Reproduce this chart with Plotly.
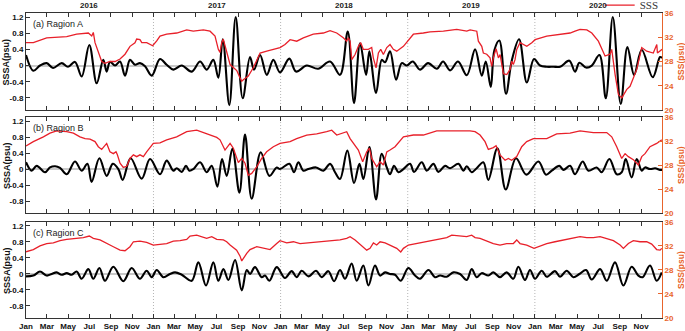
import pandas as pd
import plotly.graph_objects as go
from plotly.subplots import make_subplots

# x values are months elapsed since 2016-01-01
# ---------------- Region A ----------------
a_sssa_m = [0.0, 0.69, 1.32, 1.95, 2.55, 3.37, 3.96, 4.62, 5.25, 5.97, 6.67, 7.29, 7.61, 7.92, 8.4, 8.87, 9.34, 9.81,
            10.28, 10.75, 11.23, 11.86, 12.64, 13.27, 13.9, 14.69, 15.63, 16.42, 17.05, 17.67, 18.14, 18.56, 19.18,
            19.78, 20.44, 21.13, 21.51, 22.08, 22.71, 23.33, 23.96, 24.84, 25.47, 26.48, 27.55, 28.68, 29.62, 30.35,
            30.94, 31.51, 32.08, 32.39, 33.02, 33.56, 33.87, 34.34, 34.91, 35.44, 35.92, 36.48, 37.17, 37.92, 38.75,
            39.34, 40.0, 40.75, 41.58, 42.36, 42.99, 43.37, 43.84, 44.18, 44.65, 45.28, 45.82, 46.51, 47.24, 47.92,
            48.49, 49.12, 49.75, 50.38, 51.25, 51.79, 52.2, 52.83, 53.37, 54.09, 54.69, 55.35, 56.1, 56.73, 57.36,
            58.08, 59.12, 59.81, 60.0]
a_sssa_v = [0.26, -0.13, 0.0, 0.06, -0.06, 0.06, -0.03, 0.09, -0.27, 0.51, -0.44, 0.14, -0.15, 0.09, 0.0, 0.10, -0.25,
            0.14, 0.02, 0.06, -0.02, -0.25, 0.16, 0.02, -0.10, 0.0, -0.15, 0.10, -0.10, 0.14, -0.30, 0.65, -0.98,
            1.20, -0.81, 0.21, -0.10, 0.26, -0.23, 0.14, -0.17, 0.17, -0.15, 0.0, -0.08, 0.10, -0.23, 0.84,
            -0.93, 0.55, -0.23, 0.35, -0.68, 0.14, 0.08, 0.35, -0.35, 0.06, 0.0, 0.10, -0.10, 0.06, -0.08,
            0.10, -0.12, 0.10, -0.24, 0.40, -0.25, 0.10, -0.53, 0.38, 0.62, -0.70, 0.12, 0.65, -0.42, 0.16,
            0.0, -0.03, -0.03, -0.03, 0.12, -0.15, 0.07, -0.05, 0.0, 0.26, -0.81, 1.20, -0.95, 0.46, -0.23,
            0.39, -0.29, 0.21, 0.19]
a_sss_m = [0.0, 0.69, 1.95, 3.84, 4.78, 5.88, 6.2, 6.35, 6.51, 6.82, 7.14, 7.45, 7.92, 8.4, 8.87, 9.34, 9.81, 10.28,
           10.44, 10.75, 10.92, 11.39, 11.95, 12.33, 12.64, 13.27, 14.22, 15.16, 15.78, 16.73, 17.36, 17.83, 18.14,
           18.3, 18.46, 18.61, 18.93, 19.25, 19.56, 19.88, 20.19, 20.35, 20.5, 20.97, 21.45, 21.92, 22.08, 22.71,
           23.33, 23.96, 24.43, 24.91, 25.54, 26.16, 27.1, 28.05, 28.68, 29.31, 29.93, 30.25, 30.4, 30.57, 30.73,
           31.04, 31.35, 31.58, 31.82, 32.29, 32.61, 32.76, 33.02, 33.24, 33.46, 33.71, 34.03, 34.34, 34.65, 34.97,
           35.6, 36.07, 36.54, 37.48, 38.11, 39.37, 40.63, 41.58, 41.89, 42.52, 42.67, 42.99, 43.14, 43.46, 43.77,
           43.93, 44.08, 44.34, 44.56, 44.72, 45.03, 45.35, 45.66, 45.82, 45.97, 46.13, 46.29, 46.6, 47.24, 47.71,
           48.02, 49.12, 50.38, 51.32, 51.79, 52.26, 52.9, 53.37, 53.99, 54.31, 54.62, 55.09, 55.25, 55.57, 55.88,
           56.2, 56.67, 56.98, 57.29, 57.61, 58.08, 58.55, 59.17, 59.5, 59.56, 59.81, 60.0]
a_sss_v = [31.1, 31.1, 31.9, 32.1, 32.5, 32.7, 32.2, 32.8, 31.1, 29.7, 28.0, 27.7, 28.0, 28.0, 28.4, 29.2, 30.5, 31.1,
           31.7, 31.6, 31.1, 31.1, 30.6, 31.4, 32.2, 32.5, 32.7, 33.2, 33.0, 33.2, 33.0, 32.2, 30.0,
           29.5, 31.1, 31.7, 29.4, 27.5, 27.0, 26.5, 25.3, 24.75, 25.0, 25.6, 27.0, 28.6, 29.4, 29.7,
           30.0, 30.3, 30.8, 31.6, 31.35, 31.9, 32.5, 32.7, 33.1, 32.7, 31.9, 31.35, 31.9, 31.35, 28.3,
           29.15, 30.5, 31.1, 30.0, 30.0, 30.3, 28.6, 26.95, 29.4, 30.0, 29.15, 30.3, 30.8, 30.0, 29.7,
           30.5, 31.6, 32.5, 32.7, 32.9, 33.0, 33.3, 33.0, 33.2, 33.0, 31.35, 30.5, 29.4, 29.2, 28.6,
           27.2, 28.6, 30.1, 28.6, 29.15, 26.0, 25.85, 26.7, 28.05, 27.5, 28.3, 30.0, 31.1, 30.5, 31.1,
           31.6, 32.2, 32.5, 32.7, 33.0, 33.3, 33.2, 32.7, 31.35, 30.0, 28.9, 29.2, 30.0, 25.85, 22.55,
           22.0, 23.4, 23.9, 25.3, 26.7, 30.3, 29.7, 29.4, 30.8, 29.4, 29.7, 30.0]

# ---------------- Region B ----------------
b_sssa_m = [0.0, 0.53, 1.01, 1.79, 2.26, 2.74, 3.21, 3.84, 4.62, 5.25, 5.79, 6.19, 6.92, 7.61, 8.18, 8.71, 9.12, 9.87,
            10.91, 11.7, 12.64, 13.27, 13.9, 14.21, 14.69, 15.09, 15.41, 15.79, 16.42, 17.04, 17.52, 18.05, 18.49,
            18.93, 19.47, 20.13, 20.66, 21.29, 22.14, 22.96, 23.65, 23.96, 24.84, 25.28, 25.69, 26.16, 26.64, 27.36,
            28.05, 28.68, 29.15, 29.62, 30.31, 30.94, 31.45, 31.82, 32.39, 33.02, 33.55, 34.03, 34.34, 34.72, 35.13,
            35.6, 36.23, 36.6, 37.33, 37.8, 38.43, 38.9, 39.53, 40.0, 40.79, 41.26, 41.57, 42.04, 42.51, 43.14,
            43.61, 44.46, 45.25, 46.22, 47.2, 48.33, 49.05, 49.59, 50.31, 50.69, 51.32, 51.79, 52.51, 53.05, 53.83,
            54.3, 55.03, 55.72, 56.19, 56.57, 57.13, 57.61, 58.08, 58.39, 58.86, 59.34, 59.81, 60.0]
b_sssa_v = [0.17, -0.04, 0.08, -0.08, 0.04, 0.07, 0.03, -0.13, 0.19, -0.04, 0.13, -0.32, 0.27, -0.17, 0.13, 0.0, -0.27,
            0.27, -0.24, 0.25, -0.13, 0.21, -0.04, 0.02, -0.07, 0.08, -0.04, 0.0, 0.17, -0.08, 0.08, -0.44, 0.25,
            -0.17, 0.51, -0.59, 0.86, -0.74, 0.42, -0.17, 0.04, 0.0, 0.13, -0.08, 0.17, -0.04, 0.0, 0.04,
            -0.04, 0.13, -0.08, -0.25, 0.46, -0.35, 0.13, -0.25, 0.55, -0.76, 0.38, 0.04, -0.13, 0.08, -0.08,
            0.0, 0.13, -0.07, 0.17, -0.04, 0.13, -0.07, 0.08, 0.02, 0.13, -0.04, 0.07, -0.08, 0.02, 0.17,
            -0.27, 0.52, -0.51, 0.27, -0.14, 0.19, -0.14, -0.04, 0.08, -0.02, 0.08, -0.13, 0.19, -0.04, 0.04,
            -0.08, 0.25, -0.13, -0.08, 0.25, -0.21, 0.25, -0.04, 0.04, 0.0, 0.02, -0.02, -0.02]
b_sss_m = [0.0, 0.69, 1.64, 2.26, 2.89, 3.84, 4.47, 5.09, 5.57, 6.04, 6.51, 6.82, 7.14, 7.45, 7.61, 7.92, 8.24, 8.49,
           8.62, 8.87, 9.18, 9.5, 9.81, 10.13, 10.44, 10.75, 11.07, 11.38, 12.01, 12.64, 13.27, 14.21, 15.16, 16.1,
           17.04, 17.99, 18.3, 18.77, 19.25, 19.56, 20.03, 20.35, 20.66, 20.97, 21.29, 21.76, 22.23, 22.7, 23.33,
           23.96, 24.91, 25.53, 26.48, 27.42, 28.36, 28.84, 29.31, 30.25, 30.57, 30.88, 31.35, 31.76, 32.14, 32.39,
           32.61, 33.08, 33.4, 33.71, 34.03, 34.34, 34.81, 35.6, 36.54, 37.48, 38.11, 38.74, 40.63, 41.88, 42.36,
           42.83, 43.3, 43.61, 44.08, 44.34, 44.71, 45.19, 45.5, 45.81, 46.29, 46.76, 47.23, 47.86, 49.12, 50.06,
           51.32, 52.26, 53.52, 54.78, 55.25, 55.72, 56.19, 56.51, 56.82, 57.29, 57.76, 58.08, 58.39, 58.86, 59.49,
           59.97]
b_sss_v = [31.17, 31.9, 32.7, 33.3, 33.7, 33.55, 33.3, 32.7, 32.4, 32.3, 31.9, 31.05, 30.6, 31.3, 31.6, 30.2, 29.9, 30.2,
           29.7, 28.3, 27.6, 27.8, 29.1, 29.7, 29.4, 29.7, 29.4, 30.2, 31.6, 31.7, 32.2, 32.7, 33.55, 33.8,
           33.2, 32.6, 32.2, 30.5, 31.6, 30.8, 28.4, 29.1, 28.3, 26.3, 26.6, 27.7, 29.1, 30.2, 31.05,
           31.6, 31.9, 32.4, 33.0, 33.2, 33.55, 33.8, 33.0, 33.55, 32.4, 31.6, 30.5, 28.55, 30.2, 30.8,
           29.1, 27.7, 28.55, 28.0, 30.2, 30.5, 31.05, 32.7, 33.0, 33.0, 33.4, 33.7, 33.7, 33.7, 33.55,
           33.0, 31.9, 30.6, 30.9, 31.2, 29.7, 28.8, 29.1, 28.8, 29.4, 31.05, 31.9, 32.4, 32.4, 33.2,
           33.3, 33.7, 33.4, 33.4, 32.7, 31.05, 29.1, 29.9, 29.4, 28.9, 28.0, 29.4, 29.9, 31.05, 31.6,
           32.2]

# ---------------- Region C ----------------
c_sssa_m = [0.0, 0.69, 1.32, 1.95, 2.42, 2.89, 3.36, 3.84, 4.31, 4.78, 5.25, 5.88, 6.35, 6.92, 7.45, 8.24, 9.18, 9.97,
            10.75, 11.38, 11.86, 12.33, 12.96, 13.58, 14.06, 14.69, 15.63, 16.26, 16.98, 17.67, 18.14, 18.62, 19.09,
            19.72, 20.35, 20.82, 21.13, 21.6, 22.23, 22.55, 22.96, 23.65, 24.43, 25.06, 25.53, 26.01, 26.64, 27.36,
            27.89, 28.52, 29.06, 29.62, 30.09, 30.72, 31.19, 31.82, 32.3, 32.92, 33.4, 33.87, 34.34, 34.81, 35.35,
            36.07, 36.7, 37.17, 37.96, 38.58, 39.06, 39.69, 40.31, 40.94, 41.57, 42.04, 42.51, 42.98, 43.61, 44.08,
            44.71, 45.34, 45.97, 46.44, 47.07, 47.54, 48.02, 48.64, 49.12, 49.9, 50.37, 51.0, 51.63, 52.2, 52.83,
            53.36, 54.15, 54.78, 55.56, 56.35, 57.13, 57.76, 58.17, 58.86, 59.49, 59.97]
c_sssa_v = [-0.06, -0.04, 0.06, -0.04, 0.0, 0.04, -0.02, 0.02, -0.02, 0.06, -0.12, 0.12, -0.12, 0.15, -0.17, 0.18,
            -0.18, 0.15, -0.12, 0.08, -0.08, 0.10, -0.08, 0.0, 0.04, -0.02, -0.17, 0.29, -0.29, 0.29, -0.17, 0.12,
            -0.15, 0.35, -0.41, 0.10, 0.0, 0.17, -0.08, -0.04, -0.17, 0.17, -0.10, 0.07, -0.08, 0.08, -0.06, 0.08,
            -0.08, 0.07, -0.18, 0.10, -0.12, 0.26, -0.17, 0.21, -0.29, 0.21, -0.04, 0.04, 0.0, -0.02, -0.17,
            0.15, -0.04, -0.12, 0.10, -0.08, -0.04, -0.07, 0.04, 0.0, -0.15, 0.12, -0.08, 0.02, -0.04, 0.04,
            -0.08, 0.04, -0.12, 0.18, -0.15, 0.10, -0.12, 0.08, -0.07, 0.07, -0.07, 0.08, -0.08, 0.0, 0.10,
            -0.14, 0.12, -0.17, 0.29, -0.29, 0.18, -0.04, -0.08, 0.21, -0.17, 0.04]
c_sss_m = [0.0, 0.69, 1.32, 1.95, 2.58, 3.21, 3.84, 4.78, 5.41, 5.97, 6.35, 6.98, 7.61, 8.24, 8.87, 9.34, 9.81, 10.13,
           10.75, 11.38, 12.01, 12.64, 13.27, 13.9, 14.53, 15.16, 15.47, 16.1, 16.42, 17.04, 17.52, 17.99, 18.62,
           18.93, 19.25, 19.87, 20.19, 20.35, 20.82, 21.13, 21.76, 22.39, 23.02, 23.65, 23.96, 24.59, 25.22, 25.85,
           26.48, 27.11, 27.74, 28.36, 28.99, 29.62, 30.25, 30.57, 31.04, 31.51, 32.14, 32.45, 32.77, 33.08, 33.4,
           33.87, 34.34, 34.97, 35.35, 35.6, 36.07, 36.85, 37.8, 38.74, 39.69, 40.16, 40.94, 41.57, 42.04, 42.36,
           42.83, 43.46, 44.08, 44.71, 45.34, 45.97, 46.29, 46.6, 47.23, 47.92, 48.49, 49.12, 49.9, 50.69, 51.47,
           52.26, 52.89, 53.52, 54.15, 54.78, 55.41, 56.04, 56.35, 56.82, 57.29, 57.92, 58.55, 59.02, 59.49, 59.81,
           59.97]
c_sss_v = [31.03, 31.4, 32.0, 32.4, 32.5, 32.9, 33.1, 33.26, 33.4, 33.65, 33.26, 33.0, 32.5, 31.87, 31.3, 31.2, 31.87,
           32.7, 32.8, 32.6, 32.15, 32.3, 32.4, 32.8, 32.87, 33.1, 33.65, 33.8, 33.65, 33.26, 33.54, 33.1, 33.0,
           32.7, 32.15, 31.3, 30.3, 29.5, 30.75, 31.4, 31.87, 31.6, 31.4, 32.4, 32.87, 32.5, 32.7, 32.4,
           32.5, 32.7, 32.7, 32.87, 33.0, 33.0, 33.26, 33.54, 33.0, 32.3, 31.3, 31.6, 32.5, 32.15, 32.7,
           32.5, 32.15, 31.6, 31.0, 31.6, 32.15, 32.4, 32.7, 33.0, 33.4, 33.8, 33.65, 33.54, 33.8, 33.4,
           33.26, 32.87, 32.4, 32.15, 32.4, 32.4, 33.0, 32.4, 32.15, 31.6, 32.0, 32.4, 32.7, 33.0, 33.26,
           33.54, 33.4, 33.4, 33.54, 33.26, 32.87, 32.15, 31.6, 32.4, 32.87, 32.7, 32.7, 32.3, 31.4, 31.3,
           31.6]

panel_labels = ["(a) Ragion A", "(b) Ragion B", "(c) Ragion C"]
year_labels = ["2016", "2017", "2018", "2019", "2020"]
year_mid = ["2016-07-01", "2017-07-01", "2018-07-01", "2019-07-01", "2020-07-01"]
year_bounds = ["2017-01-01", "2018-01-01", "2019-01-01", "2020-01-01"]
sssa_ticks = [-0.8, -0.4, 0, 0.4, 0.8, 1.2]
sssa_ticktext = ["-0.8", "-0.4", "0", "0.4", "0.8", "1.2"]
sss_ticks = [20, 24, 28, 32, 36]

BASE = pd.Timestamp("2016-01-01")


def to_dates(months):
    return [BASE + pd.Timedelta(days=m * 30.4375) for m in months]


panels = [
    (a_sssa_m, a_sssa_v, a_sss_m, a_sss_v),
    (b_sssa_m, b_sssa_v, b_sss_m, b_sss_v),
    (c_sssa_m, c_sssa_v, c_sss_m, c_sss_v),
]

RED = "#e8202a"
ORANGE = "#e8642c"
FONT = "Liberation Sans"

fig = make_subplots(rows=3, cols=1, specs=[[{"secondary_y": True}]] * 3, vertical_spacing=0.02)

for i, (sm, sv, rm, rv) in enumerate(panels):
    r = i + 1
    fig.add_trace(go.Scatter(x=to_dates(sm), y=sv, mode="lines", name="SSSA",
                             line=dict(color="black", width=2.1, shape="spline", smoothing=1.0),
                             showlegend=False, hoverinfo="skip"),
                  row=r, col=1, secondary_y=False)
    fig.add_trace(go.Scatter(x=to_dates(rm), y=rv, mode="lines", name="SSS",
                             line=dict(color=RED, width=1.3),
                             showlegend=(i == 0), hoverinfo="skip"),
                  row=r, col=1, secondary_y=True)

domains = [[0.682, 1.0], [0.344, 0.659], [0.0, 0.315]]
xnames = ["xaxis", "xaxis2", "xaxis3"]
ypri = ["yaxis", "yaxis3", "yaxis5"]
ysec = ["yaxis2", "yaxis4", "yaxis6"]
yref_names = ["y", "y3", "y5"]
xref_names = ["x", "x2", "x3"]

tickfont = dict(family=FONT, size=8, color="#111", weight="bold")

for i in range(3):
    fig.layout[xnames[i]].update(
        range=["2016-01-01", "2020-12-31"], tickmode="linear", tick0="2016-01-01", dtick="M2",
        tickformat="%b", ticks="inside", ticklen=4, tickcolor="#333", showline=True, linecolor="#333",
        linewidth=1, mirror="ticks", showgrid=False, zeroline=False, showticklabels=(i == 2),
        tickfont=tickfont, domain=[0, 1])
    fig.layout[ypri[i]].update(
        range=[-1.1, 1.3], tickmode="array", tickvals=sssa_ticks, ticktext=sssa_ticktext,
        ticks="inside", ticklen=4, tickcolor="#333", showline=True, linecolor="#333", linewidth=1,
        showgrid=False, zeroline=True, zerolinecolor="#c8c8c8", zerolinewidth=2,
        tickfont=tickfont, domain=domains[i])
    fig.layout[ysec[i]].update(
        range=[20, 36], tickmode="array", tickvals=sss_ticks, ticks="inside", ticklen=4,
        tickcolor=ORANGE, showline=True, linecolor=ORANGE, linewidth=1, showgrid=False,
        zeroline=False, tickfont=dict(family=FONT, size=8, color=ORANGE, weight="bold"))

shapes = []
annotations = []
for i in range(3):
    for yb in year_bounds:
        shapes.append(dict(type="line", xref=xref_names[i], yref=f"{yref_names[i]} domain",
                           x0=yb, x1=yb, y0=0, y1=1, layer="below",
                           line=dict(color="#b4b4b4", width=1, dash="1px,2px")))
    annotations.append(dict(text=panel_labels[i], xref=f"{xref_names[i]} domain", yref=f"{yref_names[i]} domain",
                            x=0.008, y=0.885, xanchor="left", yanchor="middle", showarrow=False,
                            font=dict(family=FONT, size=9, color="#222")))
    yc = sum(domains[i]) / 2
    annotations.append(dict(text="<b>SSSA(psu)</b>", xref="paper", yref="paper", x=-0.030, y=yc,
                            xanchor="center", yanchor="middle", textangle=-90, showarrow=False,
                            font=dict(family=FONT, size=9, color="#111")))
    annotations.append(dict(text="<b>SSS(psu)</b>", xref="paper", yref="paper", x=1.030, y=yc,
                            xanchor="center", yanchor="middle", textangle=-90, showarrow=False,
                            font=dict(family=FONT, size=8.5, color=ORANGE)))

for yl, ym in zip(year_labels, year_mid):
    annotations.append(dict(text=f"<b>{yl}</b>", xref="x", yref="paper", x=ym, y=1.026,
                            xanchor="center", yanchor="middle", showarrow=False,
                            font=dict(family=FONT, size=8, color="#222")))

fig.update_layout(
    width=685, height=331,
    margin=dict(l=26, r=23, t=13, b=13, pad=0, autoexpand=False),
    paper_bgcolor="white", plot_bgcolor="white",
    font=dict(family=FONT, size=8, color="#111"),
    shapes=shapes, annotations=annotations,
    legend=dict(x=0.902, y=1.026, xanchor="left", yanchor="middle",
                font=dict(family="Liberation Serif", size=11, color="#333"),
                bgcolor="rgba(0,0,0,0)", borderwidth=0),
)

fig.write_html("out.html", config={"displayModeBar": False, "staticPlot": True},
               post_script="document.body.style.margin='0px';document.body.style.overflow='hidden';")
